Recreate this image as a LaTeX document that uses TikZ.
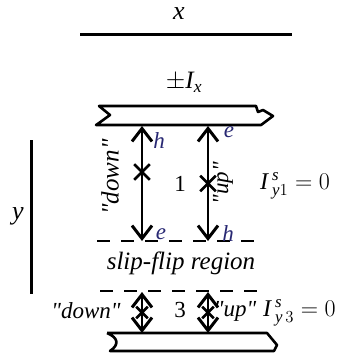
\documentclass[tikz,border=0pt]{standalone}
\usepackage{fix-cm}
\usepackage{amsmath}
\usepackage{fontspec}
\setmainfont{Liberation Serif}
\usetikzlibrary{arrows.meta,shapes.misc}
\definecolor{ink}{RGB}{0,0,0}
\definecolor{carrier}{RGB}{40,40,115}
\tikzset{
	rule/.style={line width=3pt,draw=ink},
	plate/.style={line width=2.6pt,draw=ink,line join=round},
	gap/.style={line width=2.4pt,draw=ink,dash pattern=on 13pt off 11pt},
	barb/.tip={Straight Barb[length=13pt,width=20pt,line width=3pt]},
	pair/.style={barb-barb,line width=2pt,draw=ink},
	xmark/.style={cross out,draw=ink,line width=2.6pt,minimum size=13pt,inner sep=0pt},
	lbl/.style={font=\fontsize{23}{25}\selectfont\itshape,text=ink,inner sep=0pt},
	num/.style={font=\fontsize{23}{25}\selectfont,text=ink,inner sep=0pt},
	eq/.style={font=\fontsize{24}{26}\selectfont,text=ink,inner sep=0pt,anchor=west},
	carr/.style={font=\fontsize{23}{25}\selectfont\itshape,text=carrier,inner sep=0pt},
}
\newcommand{\itv}[1]{\textit{#1}}
\newcommand{\qt}[1]{\textquotedbl#1\textquotedbl}

\begin{document}
\begin{tikzpicture}[x=1pt,y=-1pt]
	\useasboundingbox (0,0) rectangle (352,356);
	
	% axes
	\node[lbl,font=\fontsize{26}{28}\selectfont] (xlab) at (179,14) {$\itv{x}$};
	\draw[rule] (80,34) -- (292,34);
	\node[lbl,font=\fontsize{26}{28}\selectfont] (ylab) at (18,216) {$\itv{y}$};
	\draw[rule] (31,140) -- (31,294);
	\node[num,font=\fontsize{25}{27}\selectfont] (current) at (184,82) {$\pm\itv{I}_{\itv{x}}$};
	
	% upper plate
	\draw[plate] (96,125) -- (99,123) -- (110,115) -- (99,106) -- (256,106)
		-- (258,112) -- (263,110) -- (273,116) -- (261,125) -- cycle;
	% lower plate
	\draw[plate] (107,333) -- (267,333) -- (277,345) -- (274,351) -- (110,351)
		.. controls (119,345) and (119,338) .. (107,333);
	
	% slip-flip boundaries
	\draw[gap] (97,241) -- (258,241);
	\draw[gap] (100,291) -- (268,291);
	\node[lbl,font=\fontsize{25}{27}\selectfont\itshape] (slip) at (181,263) {slip-flip region};
	
	% region 1
	\coordinate (t1) at (142,126);
	\coordinate (b1) at (142,241);
	\coordinate (t2) at (208,126);
	\coordinate (b2) at (208,241);
	\draw[pair] (t1) -- (b1) node[xmark,pos=0.4] (cross1) {};
	\draw[pair] (t2) -- (b2) node[xmark,pos=0.5] (cross2) {};
	\node[carr] (h1) at (159,141) {h};
	\node[carr] (e1) at (229,132) {e};
	\node[carr] (e2) at (161,234) {e};
	\node[carr] (h2) at (228,234) {h};
	\node[lbl,rotate=90,font=\fontsize{25}{27}\selectfont\itshape] (down1) at (110,177) {\qt{down}};
	\node[lbl,rotate=90] (up1) at (223,183) {\qt{up}};
	\node[num] (one) at (180,184) {1};
	\node[eq] (spin1) at (260,186) {$\itv{I}\,{}^{\itv{s}}_{\itv{y}1}=0$};
	
	% region 3
	\coordinate (t3) at (142,292);
	\coordinate (b3) at (142,333);
	\coordinate (t4) at (208,292);
	\coordinate (b4) at (208,333);
	\draw[pair] (t3) -- (b3) node[xmark,pos=0.5,minimum size=9pt] (cross3) {};
	\draw[pair] (t4) -- (b4) node[xmark,pos=0.5,minimum size=9pt] (cross4) {};
	\node[lbl] (down3) at (86,311) {\qt{down}};
	\node[num] (three) at (180,310) {3};
	\node[lbl] (up3) at (235,311) {\qt{up}};
	\node[eq] (spin3) at (263,313) {$\itv{I}\,{}^{\itv{s}}_{\itv{y}\,3}= 0$};
\end{tikzpicture}
\end{document}
